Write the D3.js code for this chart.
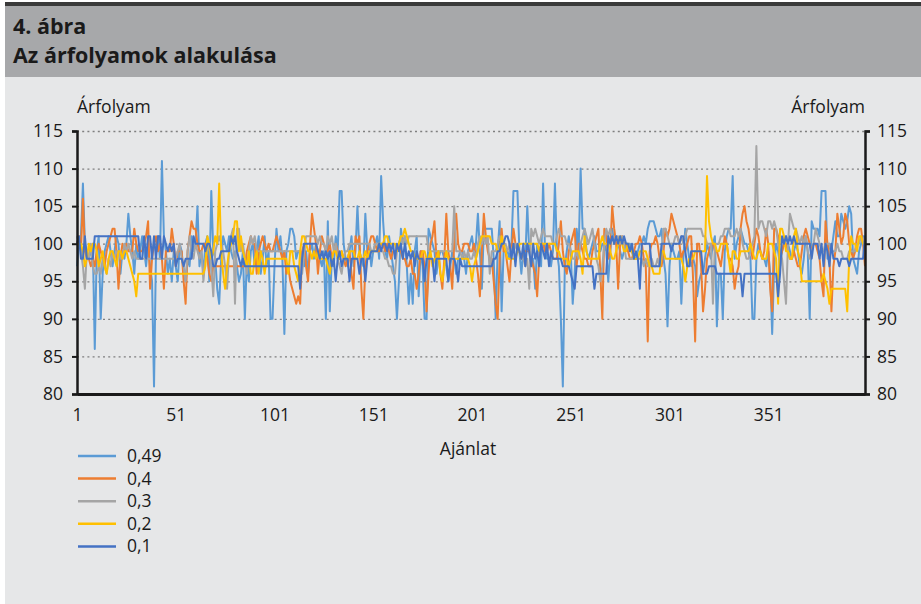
<!DOCTYPE html>
<html>
<head>
<meta charset="utf-8">
<script src="https://cdn.jsdelivr.net/npm/d3@7"></script>
<style>
  body { margin: 0; background: #fff; }
  svg { display: block; font-family: "Open Sans", sans-serif; }
</style>
</head>
<body>
<svg width="921" height="604"></svg>
<script>
// series names (legend order) and tick labels
const seriesNames = ["0,49", "0,4", "0,3", "0,2", "0,1"];
const yTicks = [80, 85, 90, 95, 100, 105, 110, 115];
const xTicks = [1, 51, 101, 151, 201, 251, 301, 351];

// 0,49
const s49 = [
  97,100,101,108,100, 99,98,99,100,86, 99,101,90,96,99, 100,101,99,97,99, 101,100,96,99,98,
  100,104,101,99,96, 100,98,99,101,99, 97,100,97,95,81, 99,101,98,111,101, 99,96,98,95,99,
  97,95,100,99,96, 95,98,97,101,99, 100,105,97,99,96, 100,101,95,107,99, 98,94,92,98,101,
  100,99,101,99,98, 99,97,95,96,99, 90,98,95,99,100, 97,99,101,96,98, 101,97,99,90,90,
  97,102,99,101,98, 88,99,100,102,102, 101,98,99,99,98, 97,99,96,99,100, 98,100,99,98,97,
  99,90,103,91,98, 97,101,99,107,107, 100,98,97,99,101, 97,99,105,99,98, 97,104,99,100,97,
  99,100,101,98,109, 103,99,98,101,99, 97,95,90,95,102, 100,101,97,92,96, 92,99,101,93,99,
  97,90,90,102,101, 100,99,96,98,99, 99,98,97,95,97, 99,98,96,98,99, 99,98,96,99,100,
  101,99,100,104,99, 94,102,102,102,102, 102,98,90,99,103, 91,99,99,99,98, 100,107,107,107,99,
  96,99,98,105,99, 97,98,94,100,99, 97,108,99,98,98, 97,99,108,99,97, 90,81,97,99,101,
  99,92,96,102,99, 110,102,102,99,98, 99,100,101,99,99, 99,100,100,99,95, 99,102,100,100,100,
  99,98,99,100,100, 100,99,98,98,99, 100,100,101,100,102, 103,103,103,102,101, 101,102,98,96,89,
  97,100,99,98,98, 99,92,98,102,100, 98,97,98,97,93, 95,96,96,98,100, 99,98,100,101,89,
  96,96,90,99,101, 102,102,109,98,100, 101,102,101,100,100, 99,98,90,90,98, 100,99,98,98,97,
  99,96,88,97,100, 99,97,99,100,101, 100,99,98,99,100, 99,97,96,98,101, 99,90,103,102,102,
  102,101,107,107,107, 98,100,99,101,103, 101,101,104,103,102, 103,105,104,98,97, 96,99,100,101,101
];

// 0,4
const s40 = [
  100,101,99,106,99, 98,98,97,98,97, 99,100,99,98,97, 99,100,101,102,102, 99,94,98,100,99,
  100,99,99,99,102, 100,99,99,99,100, 101,103,94,98,100, 101,99,100,98,94, 99,99,99,102,100,
  97,99,99,99,95, 92,99,101,103,102, 102,100,99,99,100, 100,98,96,95,97, 97,97,97,97,97,
  97,97,97,97,97, 97,97,97,97,97, 97,99,100,101,100, 100,96,99,100,101, 100,99,100,99,99,
  100,101,100,99,98, 99,96,97,95,94, 93,92,93,92,99, 100,97,95,100,104, 102,100,96,99,101,
  100,99,99,100,98, 99,100,99,98,99, 98,97,98,99,96, 94,101,100,101,94, 90,97,99,100,101,
  101,100,99,99,100, 100,99,100,99,98, 99,99,99,100,99, 98,98,97,97,98, 96,96,94,96,99,
  99,97,91,96,100, 101,103,98,99,96, 94,98,104,99,97, 94,100,104,100,99, 99,100,100,100,99,
  99,100,98,96,93, 99,104,101,99,98, 98,95,92,90,98, 102,99,99,97,95, 99,102,100,99,99,
  98,99,99,99,99, 98,97,96,93,98, 100,100,99,99,100, 99,98,98,98,100, 103,99,97,96,99,
  100,101,102,97,100, 100,99,98,98,97, 97,99,100,101,102, 96,90,102,101,98, 99,105,102,100,94,
  100,101,100,100,99, 98,98,99,100,100, 101,100,98,97,87, 99,100,100,101,100, 98,97,99,102,101,
  102,104,103,102,101, 100,98,99,99,100, 101,101,95,87,100, 100,97,91,94,98, 99,100,100,99,99,
  98,97,99,101,100, 98,98,97,94,96, 97,102,104,105,103, 102,100,98,100,102, 101,99,98,99,102,
  100,94,91,102,102, 101,98,99,100,100, 99,98,98,99,98, 97,97,99,101,102, 101,100,99,100,100,
  99,98,95,93,103, 100,98,91,97,99, 104,102,100,101,104, 103,100,99,98,99, 101,102,102,100,97
];

// 0,3
const s30 = [
  101,100,99,97,94, 99,98,100,97,96, 96,97,96,98,97, 96,98,97,99,98, 99,99,98,98,100,
  99,100,99,98,99, 98,98,98,98,98, 98,98,98,98,98, 98,98,98,98,98, 98,98,98,98,98,
  98,99,100,98,97, 95,99,101,99,98, 100,99,98,99,95, 98,99,100,97,93, 99,100,101,100,99,
  97,94,99,101,102, 92,102,102,99,100, 98,96,99,101,100, 101,99,99,99,99, 99,99,99,99,99,
  99,99,99,99,99, 99,99,99,99,99, 99,99,99,99,96, 99,101,101,101,101, 101,101,100,101,100,
  100,99,101,100,101, 99,100,98,97,96, 98,99,99,100,100, 100,100,100,100,100, 100,100,100,100,99,
  99,100,100,100,99, 99,98,98,97,97, 96,96,99,100,101, 100,101,100,101,101, 101,101,101,101,101,
  101,101,101,99,99, 99,99,99,99,99, 99,99,99,99,99, 99,105,99,99,99, 98,99,98,99,98,
  98,99,98,100,101, 100,101,100,101,96, 99,99,99,100,101, 100,100,100,99,100, 99,99,100,99,99,
  98,98,97,98,94, 102,101,102,101,100, 101,102,101,101,101, 101,100,100,101,102, 101,101,101,100,100,
  99,98,98,99,98, 100,101,102,101,100, 101,102,100,98,97, 95,97,100,102,101, 102,101,100,101,101,
  100,101,100,98,98, 98,98,98,98,98, 98,98,97,98,97, 98,98,97,97,98, 97,98,102,102,101,
  100,100,100,101,101, 100,101,100,101,102, 102,102,102,102,102, 102,102,101,101,100, 100,100,92,100,100,
  100,101,101,102,102, 102,101,101,101,102, 101,102,100,99,98, 98,99,100,101,113, 102,103,103,102,101,
  103,103,102,103,102, 100,99,98,95,92, 100,104,103,102,102, 101,100,101,100,101, 99,98,99,100,102,
  101,100,99,99,100, 100,100,99,99,99, 100,99,99,98,98, 98,99,99,99,99, 100,100,101,100,100
];

// 0,2
const s20 = [
  100,100,100,99,97, 98,100,99,100,100, 99,97,98,99,97, 96,98,99,99,98, 97,99,99,98,99,
  99,98,97,96,95, 93,96,96,96,96, 96,96,96,96,96, 96,96,96,96,96, 96,96,96,96,96,
  96,96,96,96,96, 96,96,96,96,96, 96,96,96,96,96, 97,101,100,98,99, 101,100,108,99,96,
  94,97,99,100,101, 103,103,99,101,99, 98,97,99,96,96, 98,99,96,99,98, 96,98,98,98,98,
  98,98,98,98,98, 98,98,96,99,99, 97,96,95,99,101, 101,100,99,99,98, 99,98,99,98,98,
  98,98,97,96,98, 99,99,98,98,99, 98,98,98,99,99, 99,98,98,99,98, 98,99,98,99,99,
  99,99,99,100,100, 100,101,101,100,100, 100,100,99,100,101, 101,102,101,100,99, 99,98,98,98,98,
  99,99,98,98,99, 97,98,98,99,96, 95,97,99,98,98, 98,98,98,98,98, 98,98,98,98,97,
  95,97,98,99,100, 101,101,101,101,101, 100,100,100,99,99, 101,100,99,98,98, 98,98,98,99,100,
  100,100,100,100,100, 100,100,100,100,99, 100,100,100,100,100, 100,100,100,99,99, 98,98,98,98,97,
  98,99,99,99,99, 98,96,101,99,98, 98,98,98,98,98, 100,101,100,100,100, 99,98,98,99,100,
  101,100,99,99,100, 99,99,98,98,98, 99,99,99,99,98, 97,97,96,96,96, 96,99,99,98,98,
  98,98,98,98,98, 98,98,97,95,97, 98,98,98,99,99, 99,99,99,99,109, 103,101,100,100,99,
  99,100,100,100,100, 98,96,99,99,98, 98,99,99,99,99, 99,100,99,98,98, 99,99,98,98,98,
  100,100,100,99,98, 92,102,102,101,99, 99,98,98,101,102, 99,98,95,95,95, 95,95,95,95,95,
  95,95,95,96,95, 94,92,94,94,94, 94,94,94,94,94, 91,98,101,100,100, 99,101,101,100,100
];

// 0,1
const s01 = [
  100,101,98,98,101, 98,98,98,98,101, 101,101,101,101,101, 101,101,101,101,101, 101,101,101,101,101,
  101,101,101,101,101, 101,101,98,98,101, 98,101,101,98,101, 98,101,101,98,101, 100,99,100,99,100,
  97,98,98,98,97, 98,98,98,98,101, 100,100,100,100,100, 99,100,100,99,97, 97,98,98,99,99,
  99,99,99,101,100, 101,99,98,97,98, 97,97,97,97,97, 97,97,97,97,97, 97,97,97,97,97,
  97,97,97,97,97, 97,97,97,97,97, 97,97,97,94,98, 100,100,100,100,100, 100,100,99,98,99,
  98,99,98,99,97, 98,95,98,99,97, 98,98,98,95,98, 98,98,98,96,98, 98,95,98,98,99,
  99,99,99,100,99, 100,100,99,100,99, 100,98,100,99,100, 98,100,98,99,98, 99,97,99,98,98,
  98,95,98,98,98, 98,95,98,98,98, 98,98,98,95,98, 98,98,97,95,98, 97,97,97,97,97,
  97,97,97,97,97, 97,97,97,97,97, 97,98,98,99,99, 100,100,101,101,100, 98,100,97,100,99,
  98,100,97,100,99, 97,100,98,99,97, 100,99,98,100,97, 99,98,98,98,98, 98,97,97,97,97,
  96,95,94,97,97, 97,97,97,97,97, 97,97,94,96,96, 96,96,96,96,101, 100,101,100,101,100,
  101,100,101,100,100, 99,100,98,99,98, 94,100,100,100,100, 100,97,97,97,97, 97,100,100,100,100,
  100,99,100,100,100, 100,101,101,99,97, 97,99,99,99,99, 99,99,96,96,96, 97,97,97,97,96,
  96,96,96,96,96, 96,96,96,96,96, 96,96,93,96,96, 96,96,96,96,96, 96,96,96,96,96,
  96,96,96,96,96, 93,96,101,100,101, 100,101,100,101,100, 100,100,100,100,100, 100,100,98,100,100,
  100,98,100,97,100, 99,97,100,98,98, 98,97,98,98,98, 98,97,98,98,98, 98,98,98,98,101
];

const seriesValues = [s49, s40, s30, s20, s01];
const colors = ["#5b9bd5", "#ed7d31", "#a5a5a5", "#ffc000", "#4472c4"];
const font = "'Open Sans', sans-serif";
const ink = "#1a1a1a";

const svg = d3.select("svg");
const width = +svg.attr("width");
const height = +svg.attr("height");

// panel backgrounds
svg.append("rect").attr("x", 5).attr("y", 77).attr("width", width - 5).attr("height", height - 77).attr("fill", "#e6e7e8");
svg.append("rect").attr("x", 5).attr("y", 5).attr("width", width - 5).attr("height", 72).attr("fill", "#a7a8aa");
svg.append("rect").attr("x", 5).attr("y", 2).attr("width", width - 5).attr("height", 4).attr("fill", "#3a3a3a");

svg.append("text").attr("x", 13).attr("y", 34)
  .attr("font-size", 21.5).attr("font-weight", "bold").attr("fill", ink)
  .text("4. ábra");
svg.append("text").attr("x", 13).attr("y", 63)
  .attr("font-size", 21.5).attr("font-weight", "bold").attr("fill", ink)
  .text("Az árfolyamok alakulása");

const margin = { top: 131, right: 56, bottom: 210, left: 77 };
const innerWidth = width - margin.left - margin.right;
const innerHeight = height - margin.top - margin.bottom;

const n = s49.length;
const xScale = d3.scaleLinear().domain([1, n]).range([0, innerWidth]);
const yScale = d3.scaleLinear().domain([80, 115]).range([innerHeight, 0]);

const g = svg.append("g").attr("transform", `translate(${margin.left},${margin.top})`);

// dotted gridlines
g.append("g")
  .call(d3.axisLeft(yScale).tickValues(yTicks.filter(d => d > 80)).tickSize(-innerWidth).tickFormat(""))
  .call(a => a.select(".domain").remove())
  .selectAll("line")
  .attr("stroke", "#7f7f7f").attr("stroke-width", 1.3).attr("stroke-dasharray", "2,3.2");

// lines, first series at the bottom
const line = d3.line()
  .x((d, i) => xScale(i + 1))
  .y(d => yScale(d));

seriesValues.forEach((vals, k) => {
  g.append("path")
    .datum(vals)
    .attr("fill", "none")
    .attr("stroke", colors[k])
    .attr("stroke-width", 2)
    .attr("stroke-linejoin", "round")
    .attr("d", line);
});

// axes
const leftAxis = g.append("g")
  .call(d3.axisLeft(yScale).tickValues(yTicks).tickSize(5).tickPadding(9));
const rightAxis = g.append("g")
  .attr("transform", `translate(${innerWidth},0)`)
  .call(d3.axisRight(yScale).tickValues(yTicks).tickSize(5).tickPadding(7));
[leftAxis, rightAxis].forEach(a => {
  a.select(".domain").attr("stroke", ink).attr("stroke-width", 2.5);
  a.selectAll(".tick line").attr("stroke", ink).attr("stroke-width", 2);
});

const xAxis = g.append("g")
  .attr("transform", `translate(0,${innerHeight})`)
  .call(d3.axisBottom(xScale).tickValues(xTicks).tickSize(0).tickPadding(15).tickFormat(d3.format("d")));
xAxis.select(".domain").attr("stroke", ink).attr("stroke-width", 3);

[leftAxis, rightAxis, xAxis].forEach(a => {
  a.attr("font-family", font).attr("font-size", 17.5);
  a.selectAll(".tick text").attr("fill", ink);
});

// axis titles
g.append("text").attr("x", 0).attr("y", -18)
  .attr("font-size", 17.5).attr("fill", ink).text("Árfolyam");
g.append("text").attr("x", innerWidth).attr("y", -18).attr("text-anchor", "end")
  .attr("font-size", 17.5).attr("fill", ink).text("Árfolyam");
g.append("text").attr("x", innerWidth / 2 - 3).attr("y", innerHeight + 61).attr("text-anchor", "middle")
  .attr("font-size", 17.5).attr("fill", ink).text("Ajánlat");

// legend
const legend = svg.append("g").attr("transform", "translate(78,456)");
seriesNames.forEach((name, k) => {
  const row = legend.append("g").attr("transform", `translate(0,${k * 22.6})`);
  row.append("line").attr("x1", 0).attr("x2", 38).attr("y1", 0).attr("y2", 0)
    .attr("stroke", colors[k]).attr("stroke-width", 2.5);
  row.append("text").attr("x", 49).attr("y", 6)
    .attr("font-size", 17.5).attr("fill", ink).text(name);
});
</script>
</body>
</html>
